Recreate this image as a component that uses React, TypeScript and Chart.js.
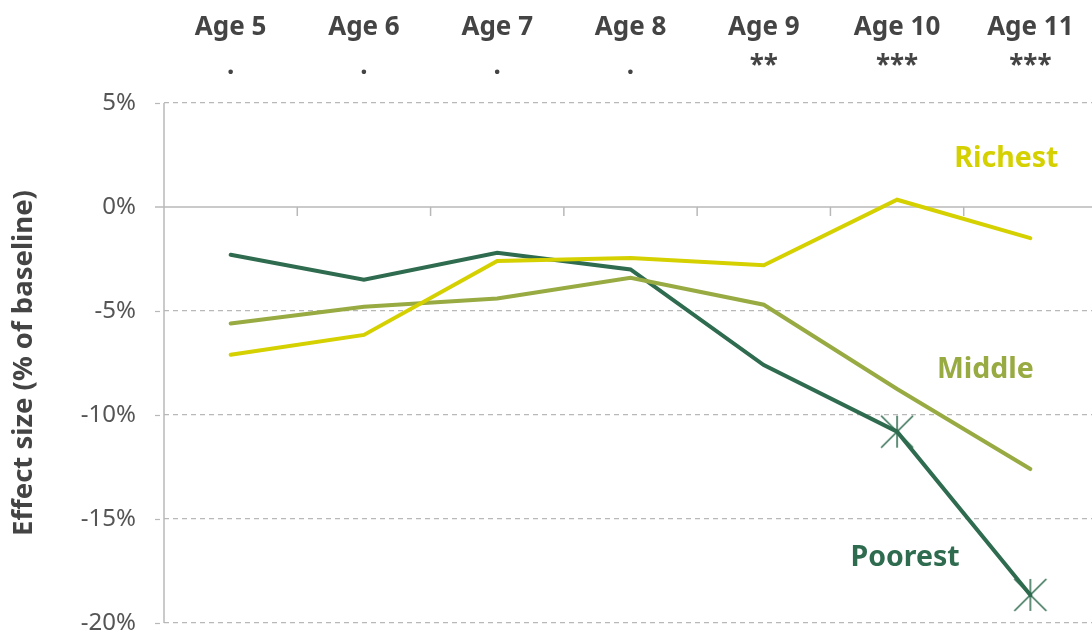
import React, { useEffect, useRef } from "react";
import { Chart, registerables } from "chart.js";

Chart.register(...registerables);

const categories = ["Age 5", "Age 6", "Age 7", "Age 8", "Age 9", "Age 10", "Age 11"];
const significance = [".", ".", ".", ".", "**", "***", "***"];
const poorest = [-2.3, -3.5, -2.2, -3.0, -7.6, -10.8, -18.65];
const middle = [-5.6, -4.8, -4.4, -3.4, -4.7, -8.75, -12.6];
const richest = [-7.1, -6.15, -2.6, -2.45, -2.8, 0.35, -1.5];
const poorestMarked = [false, false, false, false, false, true, true];
const yMin = -20;
const yMax = 5;
const yStep = 5;

const COLORS = {
  poorest: "#2e6b4f",
  middle: "#98aa42",
  richest: "#d5d000",
  text: "#444444",
  grid: "#b8b8b8",
};

const FONT = "'Noto Sans', 'Open Sans', sans-serif";

function makeMarker(color: string): HTMLCanvasElement {
  const c = document.createElement("canvas");
  c.width = 36;
  c.height = 36;
  const ctx = c.getContext("2d")!;
  ctx.strokeStyle = color;
  ctx.lineWidth = 1.5;
  const m = 18;
  const r = 16;
  ctx.beginPath();
  ctx.moveTo(m, m - r);
  ctx.lineTo(m, m + r);
  ctx.moveTo(m - r, m - r);
  ctx.lineTo(m + r, m + r);
  ctx.moveTo(m + r, m - r);
  ctx.lineTo(m - r, m + r);
  ctx.stroke();
  return c;
}

// the plot in the reference runs slightly past the right edge of the picture
const extendPlugin = {
  id: "extendX",
  afterLayout(chart: any) {
    const x = chart.scales.x;
    x.right += 5;
    x.width += 5;
    x.configure();
  },
};

const decorPlugin = {
  id: "decor",
  beforeDatasetsDraw(chart: any) {
    const { ctx, chartArea, scales } = chart;
    const x = scales.x;
    const y = scales.y;
    ctx.save();
    ctx.strokeStyle = COLORS.grid;
    ctx.lineWidth = 1.2;
    // dashed y tick marks left of axis
    ctx.setLineDash([5, 4]);
    for (let v = yMin; v <= yMax; v += yStep) {
      if (v === 0) continue;
      const py = Math.round(y.getPixelForValue(v)) + 0.5;
      ctx.beginPath();
      ctx.moveTo(chartArea.left - 9, py);
      ctx.lineTo(chartArea.left, py);
      ctx.stroke();
    }
    ctx.setLineDash([]);
    ctx.lineWidth = 1.5;
    // y axis line
    ctx.beginPath();
    ctx.moveTo(chartArea.left, y.getPixelForValue(yMax));
    ctx.lineTo(chartArea.left, y.getPixelForValue(yMin));
    ctx.stroke();
    // zero line
    const y0 = y.getPixelForValue(0);
    ctx.beginPath();
    ctx.moveTo(chartArea.left - 9, y0);
    ctx.lineTo(chartArea.right, y0);
    ctx.stroke();
    // category boundary ticks
    for (let i = 0; i + 1 < categories.length; i++) {
      const px = (x.getPixelForValue(i) + x.getPixelForValue(i + 1)) / 2;
      ctx.beginPath();
      ctx.moveTo(px, y0);
      ctx.lineTo(px, y0 + 9);
      ctx.stroke();
    }
    ctx.restore();
  },
  afterDatasetsDraw(chart: any) {
    const { ctx, scales } = chart;
    const x = scales.x;
    const y = scales.y;
    const labels = [
      { text: "Richest", color: COLORS.richest, cx: x.getPixelForValue(6) - 24, cy: y.getPixelForValue(2.3) },
      { text: "Middle", color: COLORS.middle, cx: x.getPixelForValue(6) - 45, cy: y.getPixelForValue(-7.85) },
      { text: "Poorest", color: COLORS.poorest, cx: x.getPixelForValue(5) + 8, cy: y.getPixelForValue(-16.85) },
    ];
    ctx.save();
    ctx.font = `bold 28.5px ${FONT}`;
    ctx.textAlign = "center";
    ctx.textBaseline = "middle";
    for (const l of labels) {
      ctx.fillStyle = l.color;
      ctx.fillText(l.text, l.cx, l.cy);
    }
    ctx.restore();
  },
};

export default function App() {
  const ref = useRef<HTMLCanvasElement | null>(null);

  useEffect(() => {
    document.body.style.margin = "0";
    const marker = makeMarker(COLORS.poorest);
    const lineBase = { borderWidth: 4, borderCapStyle: "round" as const, tension: 0, pointHoverRadius: 0 };
    const chart = new Chart(ref.current!, {
      type: "line",
      data: {
        labels: categories.map((c, i) => [c, significance[i]]),
        datasets: [
          {
            ...lineBase,
            label: "Richest",
            data: richest,
            borderColor: COLORS.richest,
            backgroundColor: COLORS.richest,
            pointRadius: 0,
          },
          {
            ...lineBase,
            label: "Middle",
            data: middle,
            borderColor: COLORS.middle,
            backgroundColor: COLORS.middle,
            pointRadius: 0,
          },
          {
            ...lineBase,
            label: "Poorest",
            data: poorest,
            borderColor: COLORS.poorest,
            backgroundColor: COLORS.poorest,
            pointStyle: marker as any,
            pointBorderWidth: 0,
            pointRadius: poorestMarked.map((m) => (m ? 1 : 0)),
          },
        ],
      },
      options: {
        responsive: false,
        animation: false,
        devicePixelRatio: 1,
        layout: { autoPadding: false, padding: { left: 0, right: 0, top: 0, bottom: 9 } },
        plugins: {
          legend: { display: false },
          tooltip: { enabled: false },
        },
        scales: {
          x: {
            type: "category",
            position: "top",
            offset: true,
            grid: { display: false },
            border: { display: false },
            ticks: {
              color: COLORS.text,
              font: { family: FONT, size: 26, weight: "bold", lineHeight: 1.5 },
              padding: 9,
              maxRotation: 0,
              autoSkip: false,
            },
            afterFit(scale: any) {
              scale.height = 103;
              scale.paddingLeft = 0;
              scale.paddingRight = 0;
            },
          },
          y: {
            min: yMin,
            max: yMax,
            ticks: {
              stepSize: yStep,
              color: "#555555",
              font: { family: FONT, size: 24, lineHeight: 0.5 },
              padding: 0,
              callback: (v: any) => `${v}%`,
            },
            grid: {
              color: (c: any) => (c.tick && c.tick.value === 0 ? "rgba(0,0,0,0)" : COLORS.grid),
              tickColor: "rgba(0,0,0,0)",
              lineWidth: 1.2,
              tickLength: 28,
              drawTicks: true,
            },
            border: { display: false, dash: [5, 4] },
            title: {
              display: true,
              text: "Effect size (% of baseline)",
              color: COLORS.text,
              font: { family: FONT, size: 27.5, weight: "bold" },
              padding: { top: 8, bottom: 0 },
            },
            afterFit(scale: any) {
              scale.width = 164;
              scale.paddingTop = 0;
              scale.paddingBottom = 0;
            },
          },
        },
      },
      plugins: [extendPlugin, decorPlugin],
    });
    return () => chart.destroy();
  }, []);

  return (
    <div style={{ position: "relative", width: 1092, height: 632, background: "#fff" }}>
      <canvas ref={ref} width={1092} height={632} style={{ display: "block" }} />
    </div>
  );
}
